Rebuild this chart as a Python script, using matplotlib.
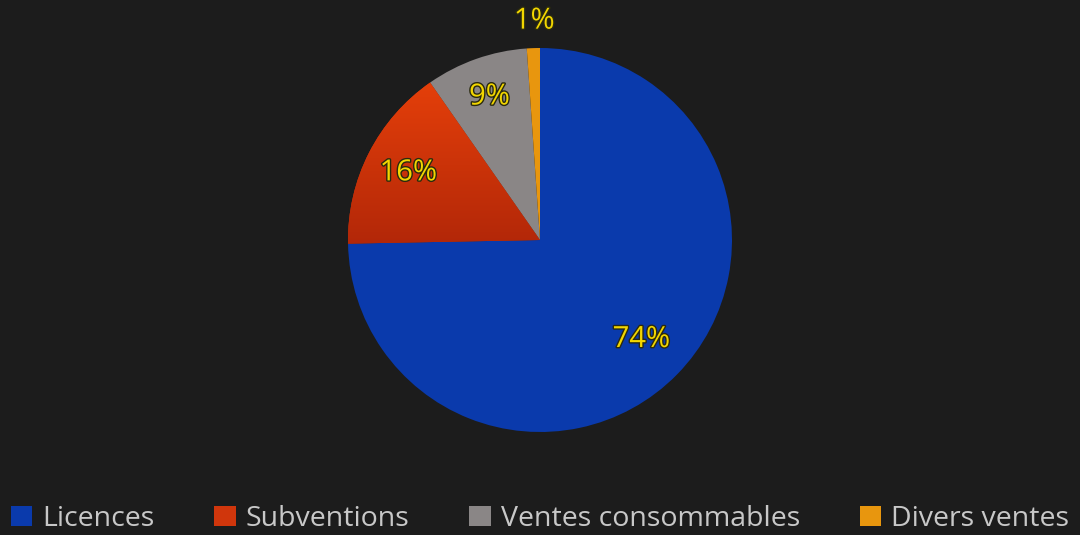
import matplotlib
matplotlib.use("Agg")
import matplotlib.pyplot as plt
import matplotlib.patheffects as pe
import numpy as np
from matplotlib.colors import LinearSegmentedColormap

categories = ["Licences", "Subventions", "Ventes consommables", "Divers ventes"]
values = [74.7, 15.6, 8.6, 1.1]
labels_pct = ["74%", "16%", "9%", "1%"]
colors = ["#0a3aac", "#d0360c", "#8a8686", "#e8960e"]

bg = "#1c1c1c"
fig = plt.figure(figsize=(10.8, 5.35), dpi=100, facecolor=bg)
W, H = 1080, 535
cx, cy, r = 540, 240, 192
ax = fig.add_axes([(cx - r) / W, (H - cy - r) / H, 2 * r / W, 2 * r / H])
ax.set_facecolor(bg)

wedges, _ = ax.pie(values, colors=colors, startangle=90, counterclock=False,
                   wedgeprops=dict(linewidth=0), radius=1)

# vertical shading on the red slice (brighter at top, darker at bottom)
red_cmap = LinearSegmentedColormap.from_list("redgrad", ["#b02608", "#e6400a"])
grad = np.linspace(0, 1, 256).reshape(-1, 1)
im = ax.imshow(grad, cmap=red_cmap, extent=[-1.05, 0.05, -0.06, 0.85], origin="lower",
               aspect="auto", zorder=wedges[1].get_zorder() + 0.1)
im.set_clip_path(wedges[1])
ax.set_xlim(-1, 1)
ax.set_ylim(-1, 1)
ax.set_aspect("equal")
ax.axis("off")

dists = [0.74, 0.77, 0.79, 1.14]
total = sum(values)
start = 90
for v, lab, d in zip(values, labels_pct, dists):
    ang = start - 360 * v / total / 2
    start -= 360 * v / total
    if lab == "1%":
        x, y = -0.03, d
    else:
        x, y = d * np.cos(np.radians(ang)), d * np.sin(np.radians(ang))
    ax.text(x, y, lab, ha="center", va="center", fontsize=21, color="#f2d600",
            family="Open Sans", clip_on=False, zorder=10,
            path_effects=[pe.withStroke(linewidth=2, foreground="#2a2a10")])

leg = fig.legend(wedges, categories, loc="center", bbox_to_anchor=(0.5, (H - 519) / H),
                 ncol=4, frameon=False,
                 handlelength=0.75, handleheight=0.75, handletextpad=0.35,
                 columnspacing=2.1, prop={"family": "Open Sans", "size": 20.5})
for t in leg.get_texts():
    t.set_color("#c8c8c8")

fig.savefig("out.png", dpi=100, facecolor=bg)
